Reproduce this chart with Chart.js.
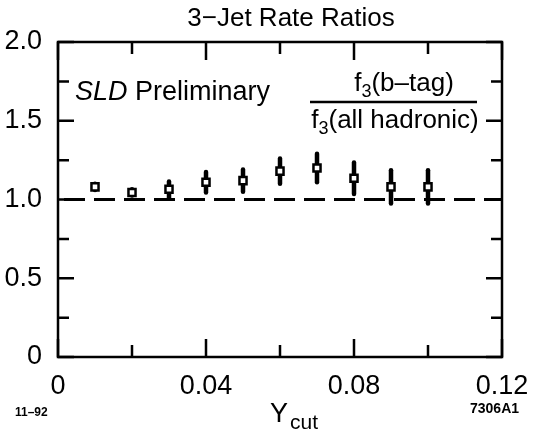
<!DOCTYPE html>
<html>
<head>
<meta charset="utf-8">
<script src="https://cdn.jsdelivr.net/npm/chart.js@4/dist/chart.umd.min.js"></script>
<style>
  html, body { margin: 0; padding: 0; background: #fff; }
  #wrap { width: 539px; height: 431px; }
</style>
</head>
<body>
<div id="wrap"><canvas id="myChart"></canvas></div>
<script>
  // data
  const ycut = [0.01, 0.02, 0.03, 0.04, 0.05, 0.06, 0.07, 0.08, 0.09, 0.10];
  const ratio = [1.08, 1.045, 1.065, 1.11, 1.12, 1.18, 1.20, 1.135, 1.08, 1.08];
  const err = [0.02, 0.02, 0.05, 0.065, 0.07, 0.08, 0.09, 0.10, 0.105, 0.105];
  const refX = [0, 0.12];
  const refY = [1.0, 1.0];
  const yLabels = { 0: '0', 50: '0.5', 100: '1.0', 150: '1.5', 200: '2.0' };
  const xLabels = { 0: '0', 4: '0.04', 8: '0.08', 12: '0.12' };

  const FONT = 'Liberation Sans, Arial, Helvetica, sans-serif';
  const ctx = document.getElementById('myChart');

  // frame, inward ticks, error bars and the text on the plot
  const decor = {
    id: 'decor',
    beforeDatasetsDraw(chart) {
      const c = chart.ctx, x = chart.scales.x, y = chart.scales.y;
      c.save();
      c.strokeStyle = '#000';
      c.lineCap = 'round';
      c.lineWidth = 4.5;
      ycut.forEach((v, i) => {
        const px = x.getPixelForValue(v);
        c.beginPath();
        c.moveTo(px, y.getPixelForValue(ratio[i] + err[i]));
        c.lineTo(px, y.getPixelForValue(ratio[i] - err[i]));
        c.stroke();
      });
      c.restore();
    },
    afterDraw(chart) {
      const c = chart.ctx, a = chart.chartArea;
      const x = chart.scales.x, y = chart.scales.y;
      c.save();
      c.strokeStyle = '#000';
      c.lineWidth = 2.5;
      c.strokeRect(a.left, a.top, a.right - a.left, a.bottom - a.top);
      y.ticks.forEach(t => {
        const major = Math.round(t.value * 100) % 50 === 0;
        const len = major ? 16 : 11;
        const py = y.getPixelForValue(t.value);
        c.beginPath();
        c.moveTo(a.left, py); c.lineTo(a.left + len, py);
        c.moveTo(a.right, py); c.lineTo(a.right - len, py);
        c.stroke();
      });
      x.ticks.forEach(t => {
        const major = Math.round(t.value * 100) % 4 === 0;
        const len = major ? 18 : 12;
        const px = x.getPixelForValue(t.value);
        c.beginPath();
        c.moveTo(px, a.bottom); c.lineTo(px, a.bottom - len);
        c.moveTo(px, a.top); c.lineTo(px, a.top + len);
        c.stroke();
      });

      c.fillStyle = '#000';
      c.textBaseline = 'alphabetic';
      // title
      c.textAlign = 'center';
      c.font = '26px ' + FONT;
      c.fillText('3\u2212Jet Rate Ratios', 291, 26);

      // SLD Preliminary
      c.textAlign = 'left';
      c.font = 'italic 27px ' + FONT;
      c.fillText('SLD', 75, 100);
      const w = c.measureText('SLD ').width;
      c.font = '27px ' + FONT;
      c.fillText('Preliminary', 75 + w, 100);

      // fraction
      function fText(rest, cx, base) {
        c.font = '26px ' + FONT;
        const wf = c.measureText('f').width;
        c.font = '18px ' + FONT;
        const w3 = c.measureText('3').width;
        c.font = '26px ' + FONT;
        const wr = c.measureText(rest).width;
        let sx = cx - (wf + w3 + wr) / 2;
        c.fillText('f', sx, base);
        c.font = '18px ' + FONT;
        c.fillText('3', sx + wf, base + 6);
        c.font = '26px ' + FONT;
        c.fillText(rest, sx + wf + w3, base);
      }
      fText('(b\u2013tag)', 404, 91);
      c.lineWidth = 2.5;
      c.beginPath();
      c.moveTo(310, 102); c.lineTo(477, 102);
      c.stroke();
      fText('(all hadronic)', 395, 128);

      // axis title
      c.textAlign = 'left';
      c.font = '27px ' + FONT;
      c.fillText('Y', 270, 422);
      c.font = '21px ' + FONT;
      c.fillText('cut', 290, 429);

      c.font = 'bold 12px ' + FONT;
      c.fillText('11\u201392', 15, 416);
      c.font = 'bold 14px ' + FONT;
      c.fillText('7306A1', 470, 413);
      c.restore();
    }
  };

  new Chart(ctx, {
    type: 'scatter',
    data: {
      datasets: [
        {
          type: 'line',
          data: refX.map((v, i) => ({ x: v, y: refY[i] })),
          borderColor: '#000',
          borderWidth: 3,
          borderDash: [21, 9],
          borderDashOffset: 24,
          pointRadius: 0,
          fill: false
        },
        {
          data: ycut.map((v, i) => ({ x: v, y: ratio[i] })),
          pointStyle: 'rect',
          pointRadius: 5,
          pointBorderWidth: 2.5,
          pointBorderColor: '#000',
          pointBackgroundColor: '#fff'
        }
      ]
    },
    options: {
      responsive: true,
      maintainAspectRatio: false,
      animation: false,
      layout: { padding: { left: 0, top: 42, right: 37, bottom: 0 } },
      plugins: { legend: { display: false }, tooltip: { enabled: false } },
      scales: {
        x: {
          type: 'linear',
          min: 0,
          max: 0.12,
          afterFit(s) { s.height = 74; },
          grid: { display: false },
          border: { display: false },
          ticks: {
            stepSize: 0.02,
            autoSkip: false,
            maxRotation: 0,
            padding: 5,
            color: '#000',
            font: { family: FONT, size: 27 },
            callback: v => xLabels[Math.round(v * 100)] || ''
          }
        },
        y: {
          min: 0,
          max: 2,
          afterFit(s) { s.width = 58; },
          grid: { display: false },
          border: { display: false },
          ticks: {
            stepSize: 0.25,
            autoSkip: false,
            padding: 8,
            color: '#000',
            font: { family: FONT, size: 27 },
            callback: v => yLabels[Math.round(v * 100)] || ''
          }
        }
      }
    },
    plugins: [decor]
  });
</script>
</body>
</html>
